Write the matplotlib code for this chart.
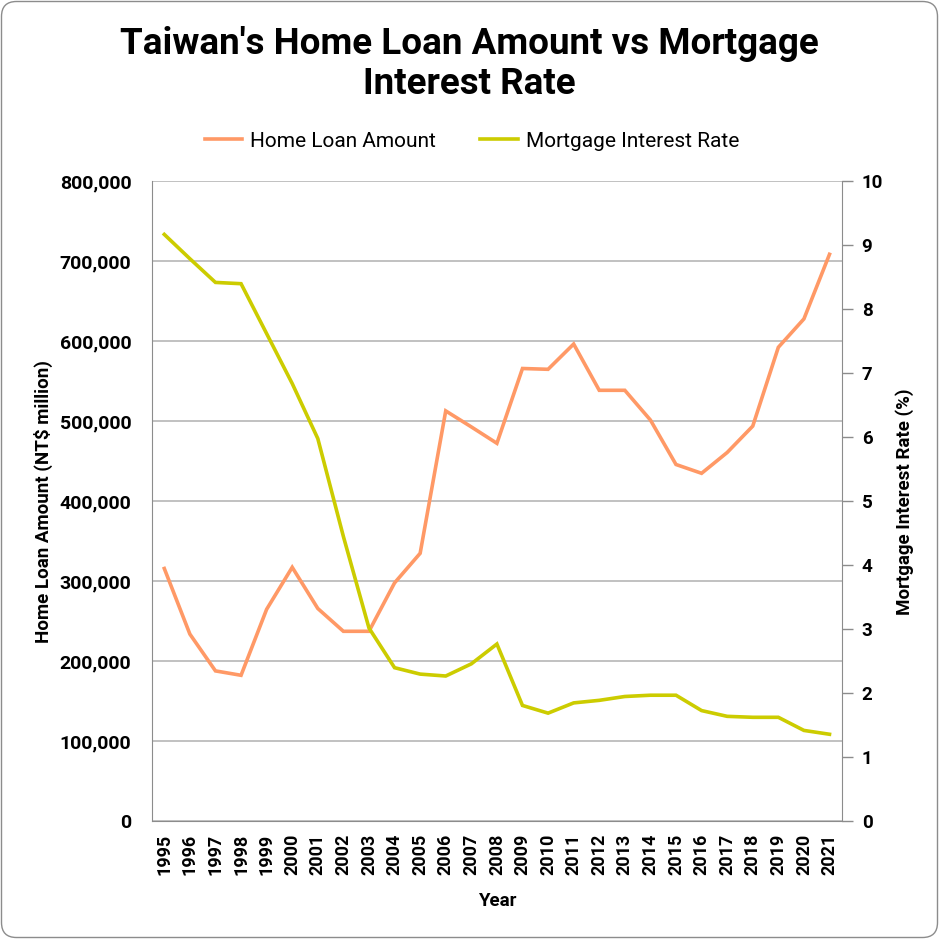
import matplotlib
matplotlib.use("Agg")
import matplotlib.pyplot as plt
from matplotlib.patches import FancyBboxPatch
from matplotlib.ticker import FuncFormatter, MultipleLocator

years = [str(y) for y in range(1995, 2022)]
home_loan = [316000, 234000, 188000, 182500, 265000, 317500, 266000, 237500, 237500,
             298000, 335000, 513000, 493000, 472500, 566000, 565000, 596600, 538750,
             538750, 501600, 446000, 435000, 461000, 494000, 592500, 628000, 708750]
mortgage_rate = [9.17, 8.79, 8.42, 8.40, 7.62, 6.84, 5.98, 4.45, 3.02, 2.40, 2.30, 2.27,
                 2.46, 2.77, 1.81, 1.69, 1.85, 1.89, 1.95, 1.97, 1.97, 1.73, 1.64, 1.625,
                 1.625, 1.42, 1.36]

ORANGE = "#FF9966"
GREEN = "#CCCC00"
FONT = "Roboto"

plt.rcParams['font.family'] = [FONT, 'DejaVu Sans']

fig = plt.figure(figsize=(9.39, 9.39), dpi=100, facecolor="white")
border = FancyBboxPatch((1.5 / 939, 1.5 / 939), 1 - 3 / 939, 1 - 3 / 939,
                        boxstyle="round,pad=0,rounding_size=0.016",
                        transform=fig.transFigure, facecolor="none",
                        edgecolor="#8c8c8c", linewidth=1.0, zorder=-1)
fig.patches.append(border)

L, R, B, T = 151.5 / 939, 842.3 / 939, 1 - 821.3 / 939, 1 - 181.3 / 939
ax = fig.add_axes([L, B, R - L, T - B])
ax.set_facecolor("none")
ax2 = ax.twinx()

x = list(range(len(years)))
ax.plot(x, home_loan, color=ORANGE, lw=2.6, label="Home Loan Amount", solid_joinstyle="miter", zorder=3)
ax2.plot(x, mortgage_rate, color=GREEN, lw=2.6, label="Mortgage Interest Rate", solid_joinstyle="miter", zorder=3)

ax.set_xlim(-0.5, len(years) - 0.5)
ax.set_ylim(0, 800000)
ax2.set_ylim(0, 10)
ax.yaxis.set_major_locator(MultipleLocator(100000))
ax2.yaxis.set_major_locator(MultipleLocator(1))
ax.yaxis.set_major_formatter(FuncFormatter(lambda v, p: f"{int(v):,}"))
ax.set_xticks(x)
ax.set_xticklabels(years, rotation=90, fontsize=13, fontweight="bold")
ax.tick_params(axis="x", length=0, pad=9)
ax.tick_params(axis="y", length=0, pad=14.5, labelsize=14)
for lbl in ax.get_yticklabels():
    lbl.set_fontweight("bold")
ax2.tick_params(axis="y", length=8, width=1, color="#8c8c8c", pad=6, labelsize=13.5)
for lbl in ax2.get_yticklabels():
    lbl.set_fontweight("bold")

ax.grid(axis="y", color="#b0b0b0", lw=1.1)
ax.set_axisbelow(True)
for sp in ["top"]:
    ax.spines[sp].set_visible(False)
    ax2.spines[sp].set_visible(False)
ax2.spines["right"].set_color("#8c8c8c")
ax.spines["left"].set_color("#8c8c8c")
ax.spines["bottom"].set_color("#8c8c8c")
ax2.spines["left"].set_visible(False)
ax2.spines["bottom"].set_visible(False)
ax.spines["right"].set_visible(False)

ax.set_xlabel("Year", fontsize=13.5, fontweight="bold", labelpad=12)
ax.set_ylabel("Home Loan Amount (NT$ million)", fontsize=13.5, fontweight="bold", labelpad=5)
ax2.set_ylabel("Mortgage Interest Rate (%)", fontsize=13.5, fontweight="bold", labelpad=9)

fig.text(0.5, 1 - 64 / 939, "Taiwan's Home Loan Amount vs Mortgage\nInterest Rate",
         ha="center", va="center", fontsize=26.5, fontweight="bold", linespacing=1.12)

h1, l1 = ax.get_legend_handles_labels()
h2, l2 = ax2.get_legend_handles_labels()
fig.legend(h1 + h2, l1 + l2, loc="center", bbox_to_anchor=(472 / 939, 1 - 141 / 939),
           ncol=2, frameon=False, fontsize=15, handlelength=1.8, columnspacing=2.1,
           handletextpad=0.4)

fig.savefig("out.png", dpi=100)
